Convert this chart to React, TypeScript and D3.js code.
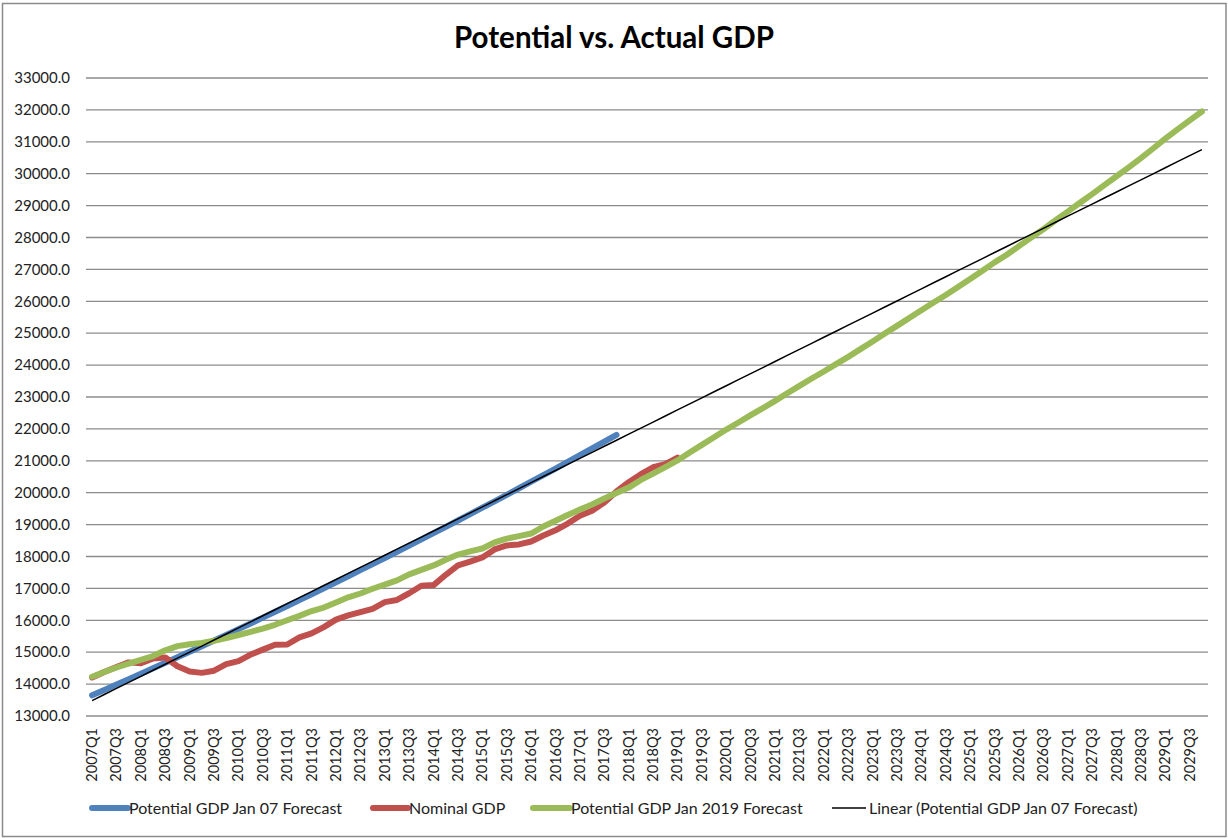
import React from 'react';
import * as d3 from 'd3';

const W = 1228;
const H = 838;

// Categories: quarters 2007Q1 .. 2029Q4
const years = d3.range(2007, 2030);
const quarters: string[] = years.flatMap((y) => [1, 2, 3, 4].map((q) => `${y}Q${q}`));

// Potential GDP Jan 07 Forecast (2007Q1 - 2017Q4)
const potential07 = [
  13650, 13816, 13984, 14153, 14323, 14494, 14666, 14840, 15014, 15189,
  15366, 15544, 15723, 15902, 16083, 16266, 16449, 16633, 16818, 17005,
  17193, 17381, 17571, 17762, 17954, 18147, 18341, 18537, 18733, 18930,
  19129, 19329, 19530, 19731, 19934, 20139, 20344, 20550, 20757, 20966,
  21176, 21386, 21598, 21811,
];

// Nominal GDP (2007Q1 - 2019Q1)
const nominal = [
  14208, 14382, 14535, 14681, 14651, 14805, 14835, 14559, 14394, 14352,
  14420, 14628, 14721, 14926, 15080, 15231, 15242, 15462, 15588, 15786,
  16020, 16152, 16257, 16358, 16570, 16637, 16848, 17084, 17103, 17426,
  17722, 17842, 17971, 18222, 18347, 18379, 18470, 18657, 18821, 19033,
  19280, 19438, 19692, 20038, 20328, 20580, 20798, 20898, 21098,
];

// Potential GDP Jan 2019 Forecast (2007Q1 - 2029Q4)
const potential19 = [
  14230, 14380, 14520, 14640, 14760, 14880, 15060, 15190, 15250, 15290,
  15360, 15440, 15540, 15640, 15740, 15860, 16000, 16140, 16290, 16400,
  16560, 16720, 16840, 16990, 17120, 17250, 17440, 17580, 17720, 17900,
  18060, 18160, 18250, 18440, 18560, 18640, 18720, 18940, 19120, 19300,
  19470, 19630, 19820, 19990, 20160, 20400, 20600, 20800, 21010, 21260,
  21500, 21740, 21980, 22200, 22430, 22650, 22880, 23120, 23350, 23580,
  23800, 24030, 24260, 24500, 24740, 24990, 25230, 25480, 25720, 25960,
  26200, 26450, 26700, 26960, 27220, 27460, 27730, 28000, 28260, 28540,
  28810, 29090, 29360, 29640, 29920, 30200, 30490, 30790, 31100, 31390,
  31670, 31950,
];

const yTicks = d3.range(13000, 33001, 1000);
const xTickLabels = quarters.filter((_, i) => i % 2 === 0);

const seriesNames = [
  'Potential GDP Jan 07 Forecast',
  'Nominal GDP',
  'Potential GDP Jan 2019 Forecast',
  'Linear (Potential GDP Jan 07 Forecast)',
];
const colors = ['#4F81BD', '#C0504D', '#9BBB59', '#000000'];

const FONT = 'Lato, "Open Sans", sans-serif';

export default function App() {
  const left = 86;
  const right = 1208;
  const top = 78;
  const bottom = 716;

  const x = d3.scaleBand<string>().domain(quarters).range([left, right]).padding(0);
  const y = d3.scaleLinear().domain([13000, 33000]).range([bottom, top]);
  const cx = (i: number) => (x(quarters[i]) as number) + x.bandwidth() / 2;

  const line = d3
    .line<number>()
    .x((_, i) => cx(i))
    .y((d) => y(d));

  // Linear trend (least squares) of Potential GDP Jan 07 Forecast, extended across all categories
  const idx = potential07.map((_, i) => i);
  const mx = d3.mean(idx) as number;
  const my = d3.mean(potential07) as number;
  let sxy = 0;
  let sxx = 0;
  idx.forEach((i) => {
    sxy += (i - mx) * (potential07[i] - my);
    sxx += (i - mx) * (i - mx);
  });
  const slope = sxy / sxx;
  const intercept = my - slope * mx;
  const trend = quarters.map((_, i) => intercept + slope * i);

  const legendItems = [
    { x0: 92, x1: 128, tx: 129, w: 6 },
    { x0: 373, x1: 408, tx: 409, w: 6 },
    { x0: 533, x1: 570, tx: 571, w: 6 },
    { x0: 832, x1: 866, tx: 869, w: 1.5 },
  ];

  return (
    <svg
      width={W}
      height={H}
      style={{ position: 'absolute', left: 0, top: 0, background: '#fff' }}
      fontFamily={FONT}
    >
      <rect x={0} y={0} width={W} height={H} fill="#fff" />
      <rect x={2.5} y={3.5} width={1223.5} height={833} fill="none" stroke="#8a8a8a" strokeWidth={1.5} />

      <text x={614} y={48} textAnchor="middle" fontSize={29.5} fontWeight="bold" fill="#000">
        Potential vs. Actual GDP
      </text>

      {yTicks.map((t) => (
        <g key={t}>
          <line x1={left} x2={right} y1={y(t)} y2={y(t)} stroke="#8c8c8c" strokeWidth={1.3} />
          <text x={70} y={y(t)} dy="0.35em" textAnchor="end" fontSize={15} fill="#222">
            {t.toFixed(1)}
          </text>
        </g>
      ))}

      {xTickLabels.map((q) => {
        const px = (x(q) as number) + x.bandwidth() / 2;
        return (
          <text
            key={q}
            transform={`translate(${px + 5},${728}) rotate(-90)`}
            textAnchor="end"
            fontSize={14.5}
            fill="#222"
          >
            {q}
          </text>
        );
      })}

      <path d={line(potential07) as string} fill="none" stroke={colors[0]} strokeWidth={6} strokeLinejoin="round" strokeLinecap="round" />
      <path d={line(nominal) as string} fill="none" stroke={colors[1]} strokeWidth={6} strokeLinejoin="round" strokeLinecap="round" />
      <path d={line(potential19) as string} fill="none" stroke={colors[2]} strokeWidth={6} strokeLinejoin="round" strokeLinecap="round" />
      <path d={line(trend) as string} fill="none" stroke={colors[3]} strokeWidth={1.5} />

      {legendItems.map((it, i) => (
        <g key={i}>
          <line x1={it.x0} x2={it.x1} y1={808} y2={808} stroke={colors[i]} strokeWidth={it.w} strokeLinecap={it.w > 2 ? 'round' : 'butt'} />
          <text x={it.tx} y={808} dy="0.35em" fontSize={16} fill="#222">
            {seriesNames[i]}
          </text>
        </g>
      ))}
    </svg>
  );
}
